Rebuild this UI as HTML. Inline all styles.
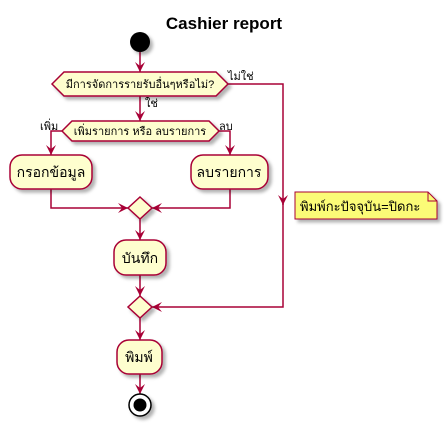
<!DOCTYPE html>
<html><head><meta charset="utf-8"><style>
html,body{margin:0;padding:0;background:#fff;}
svg{display:block;}
text{font-family:"Liberation Sans","Noto Sans CJK SC",sans-serif;}
</style></head><body>
<svg width="448" height="426" xmlns="http://www.w3.org/2000/svg">
<defs>
<filter id="sh" x="-20%" y="-20%" width="150%" height="150%"><feDropShadow dx="3" dy="3" stdDeviation="1.5" flood-color="#000" flood-opacity="0.3"/></filter>
<marker id="a" viewBox="0 0 10 10" refX="10" refY="5" markerWidth="10" markerHeight="10" orient="auto" markerUnits="userSpaceOnUse"><path d="M0,0 L10,5 L0,10 L4,5 Z" fill="#A80036"/></marker>
</defs>
<text x="224" y="29" font-size="17" text-anchor="middle" font-weight="bold" fill="#000">Cashier report</text>
<g stroke="#A80036" stroke-width="1.5" fill="none">
<line x1="140" y1="52" x2="140" y2="72" marker-end="url(#a)"/>
<line x1="140" y1="96" x2="140" y2="121" marker-end="url(#a)"/>
<polyline points="62,131 51,131 51,155" marker-end="url(#a)"/>
<polyline points="219,131 230,131 230,155" marker-end="url(#a)"/>
<polyline points="51,189 51,208 128,208" marker-end="url(#a)"/>
<polyline points="230,189 230,208 152,208" marker-end="url(#a)"/>
<line x1="140" y1="219" x2="140" y2="240" marker-end="url(#a)"/>
<line x1="140" y1="275" x2="140" y2="296" marker-end="url(#a)"/>
<polyline points="227,84 283,84 283,205"  marker-end="url(#a)"/>
<polyline points="283,200 283,307 152,307" marker-end="url(#a)"/>
<line x1="140" y1="318" x2="140" y2="340" marker-end="url(#a)"/>
<line x1="140" y1="374" x2="140" y2="394" marker-end="url(#a)"/>
</g>
<g stroke="#A80036" stroke-width="1.5" fill="#FEFECE" filter="url(#sh)">
<polygon points="52,84 64,72 216,72 228,84 216,96 64,96"/>
<polygon points="62,131 72,121 209,121 219,131 209,141 72,141"/>
<rect x="10" y="155" width="82" height="34" rx="12"/>
<rect x="191" y="155" width="77" height="34" rx="12"/>
<polygon points="140,197 152,208 140,219 128,208"/>
<rect x="114" y="240" width="52" height="35" rx="12"/>
<polygon points="140,296 152,307 140,318 128,307"/>
<rect x="117" y="340" width="45" height="34" rx="12"/>
<path d="M295,192 L428,192 L437,201 L437,219 L295,219 Z" fill="#FBFB77" stroke-width="1"/>
</g>
<path d="M428,192 L428,201 L437,201" fill="none" stroke="#A80036" stroke-width="1"/>
<circle cx="140" cy="42" r="10" fill="#000" filter="url(#sh)"/>
<circle cx="140" cy="405" r="11" fill="#fff" stroke="#000" stroke-width="1.5" filter="url(#sh)"/>
<circle cx="140" cy="405" r="6.5" fill="#000"/>
<g font-size="14" fill="#000">
<text x="140" y="88" text-anchor="middle" font-size="11">มีการจัดการรายรับอื่นๆหรือไม่?</text>
<text x="228" y="80" font-size="11">ไม่ใช่</text>
<text x="145" y="107" font-size="11">ใช่</text>
<text x="140" y="135" text-anchor="middle" font-size="11">เพิ่มรายการ หรือ ลบรายการ</text>
<text x="40" y="130" font-size="11">เพิ่ม</text>
<text x="219" y="130" font-size="11">ลบ</text>
<text x="51" y="177" text-anchor="middle">กรอกข้อมูล</text>
<text x="229" y="177" text-anchor="middle">ลบรายการ</text>
<text x="140" y="263" text-anchor="middle">บันทึก</text>
<text x="139" y="362" text-anchor="middle">พิมพ์</text>
<text x="300" y="211" font-size="13">พิมพ์กะปัจจุบัน=ปิดกะ</text>
</g>
</svg>
</body></html>
